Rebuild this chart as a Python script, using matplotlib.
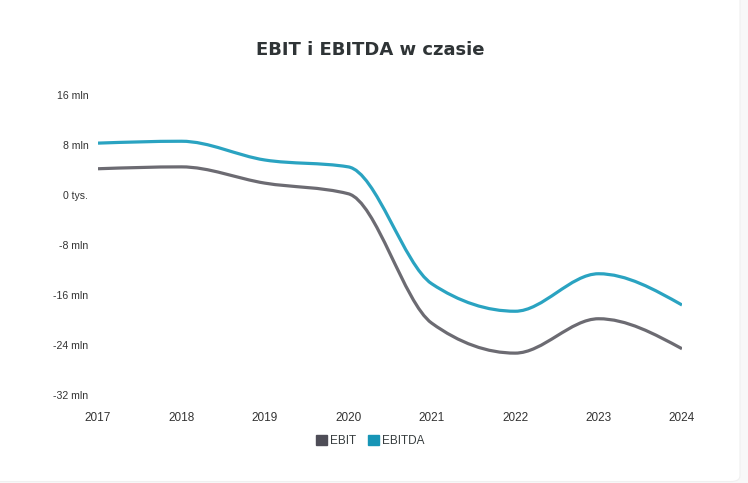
import numpy as np
import matplotlib
matplotlib.use("Agg")
import matplotlib.pyplot as plt
from matplotlib.path import Path
from matplotlib.patches import PathPatch, FancyBboxPatch
from matplotlib.ticker import FuncFormatter

plt.rcParams["font.family"] = ["Liberation Sans", "DejaVu Sans"]

years = [2017, 2018, 2019, 2020, 2021, 2022, 2023, 2024]
ebit = [4.2, 4.5, 1.9, 0.2, -20.5, -25.3, -19.8, -24.6]      # mln PLN
ebitda = [8.3, 8.6, 5.6, 4.5, -14.2, -18.6, -12.6, -17.6]    # mln PLN
y_ticks = [16, 8, 0, -8, -16, -24, -32]

C_EBIT = "#6c6b72"
C_EBITDA = "#2aa3c1"
C_EBIT_LEG = "#4e4d57"
C_EBITDA_LEG = "#1795b6"


def monotone_path(x, y):
    """Gladka krzywa (monotone cubic, jak d3.curveMonotoneX) jako Path beziera."""
    x = np.asarray(x, float)
    y = np.asarray(y, float)
    h = np.diff(x)
    s = np.diff(y) / h
    n = len(x)
    m = np.zeros(n)
    for i in range(1, n - 1):
        if s[i - 1] * s[i] <= 0:
            m[i] = 0
        else:
            p = (s[i - 1] * h[i] + s[i] * h[i - 1]) / (h[i - 1] + h[i])
            m[i] = np.sign(s[i - 1]) * min(abs(s[i - 1]), abs(s[i]), 0.5 * abs(p)) * 2
    m[0] = (3 * s[0] - m[1]) / 2 if n > 2 else s[0]
    m[-1] = (3 * s[-1] - m[-2]) / 2 if n > 2 else s[-1]
    verts = [(x[0], y[0])]
    codes = [Path.MOVETO]
    for i in range(n - 1):
        dx = h[i] / 3
        verts += [(x[i] + dx, y[i] + m[i] * dx),
                  (x[i + 1] - dx, y[i + 1] - m[i + 1] * dx),
                  (x[i + 1], y[i + 1])]
        codes += [Path.CURVE4] * 3
    return Path(verts, codes)


fig = plt.figure(figsize=(7.48, 4.83), dpi=100)
fig.patch.set_facecolor("#f8f8f8")
# biala karta z zaokraglonym prawym dolnym rogiem
card = FancyBboxPatch((-0.05, 1.5 / 483), 0.05 + 740 / 748, 1.2, transform=fig.transFigure,
                      boxstyle="round,pad=0,rounding_size=0.012",
                      facecolor="white", edgecolor="#f0f0f0", linewidth=0.8, zorder=-10)
fig.patches.append(card)

ax = fig.add_axes([98 / 748, 1 - 395 / 483, (682 - 98) / 748, 300 / 483])
ax.set_facecolor("none")

for vals, col in [(ebit, C_EBIT), (ebitda, C_EBITDA)]:
    ax.add_patch(PathPatch(monotone_path(years, vals), facecolor="none",
                           edgecolor=col, linewidth=2.3, capstyle="butt"))

ax.set_xlim(years[0], years[-1])
ax.set_ylim(y_ticks[-1], y_ticks[0])
ax.set_xticks(years)
ax.set_yticks(y_ticks)
ax.yaxis.set_major_formatter(FuncFormatter(lambda v, p: "0 tys." if v == 0 else f"{int(v)} mln"))
for sp in ax.spines.values():
    sp.set_visible(False)
ax.tick_params(axis="both", length=0, colors="#333333")
ax.tick_params(axis="y", labelsize=7.6, pad=7)
ax.tick_params(axis="x", labelsize=8.5, pad=12)

fig.text(0.495, 1 - 50 / 483, "EBIT i EBITDA w czasie", ha="center", va="center",
         fontsize=13, fontweight="bold", color="#2f3436", family="DejaVu Sans")

h1 = plt.Rectangle((0, 0), 1, 1, color=C_EBIT_LEG)
h2 = plt.Rectangle((0, 0), 1, 1, color=C_EBITDA_LEG)
leg = fig.legend([h1, h2], ["EBIT", "EBITDA"], loc="center", ncol=2,
                 bbox_to_anchor=(0.495, 1 - 441 / 483), frameon=False,
                 fontsize=8.5, handlelength=0.9, handleheight=0.9,
                 handletextpad=0.3, columnspacing=1.0)
for t in leg.get_texts():
    t.set_color("#373d3f")

plt.savefig("out.png", dpi=100)
plt.close()
